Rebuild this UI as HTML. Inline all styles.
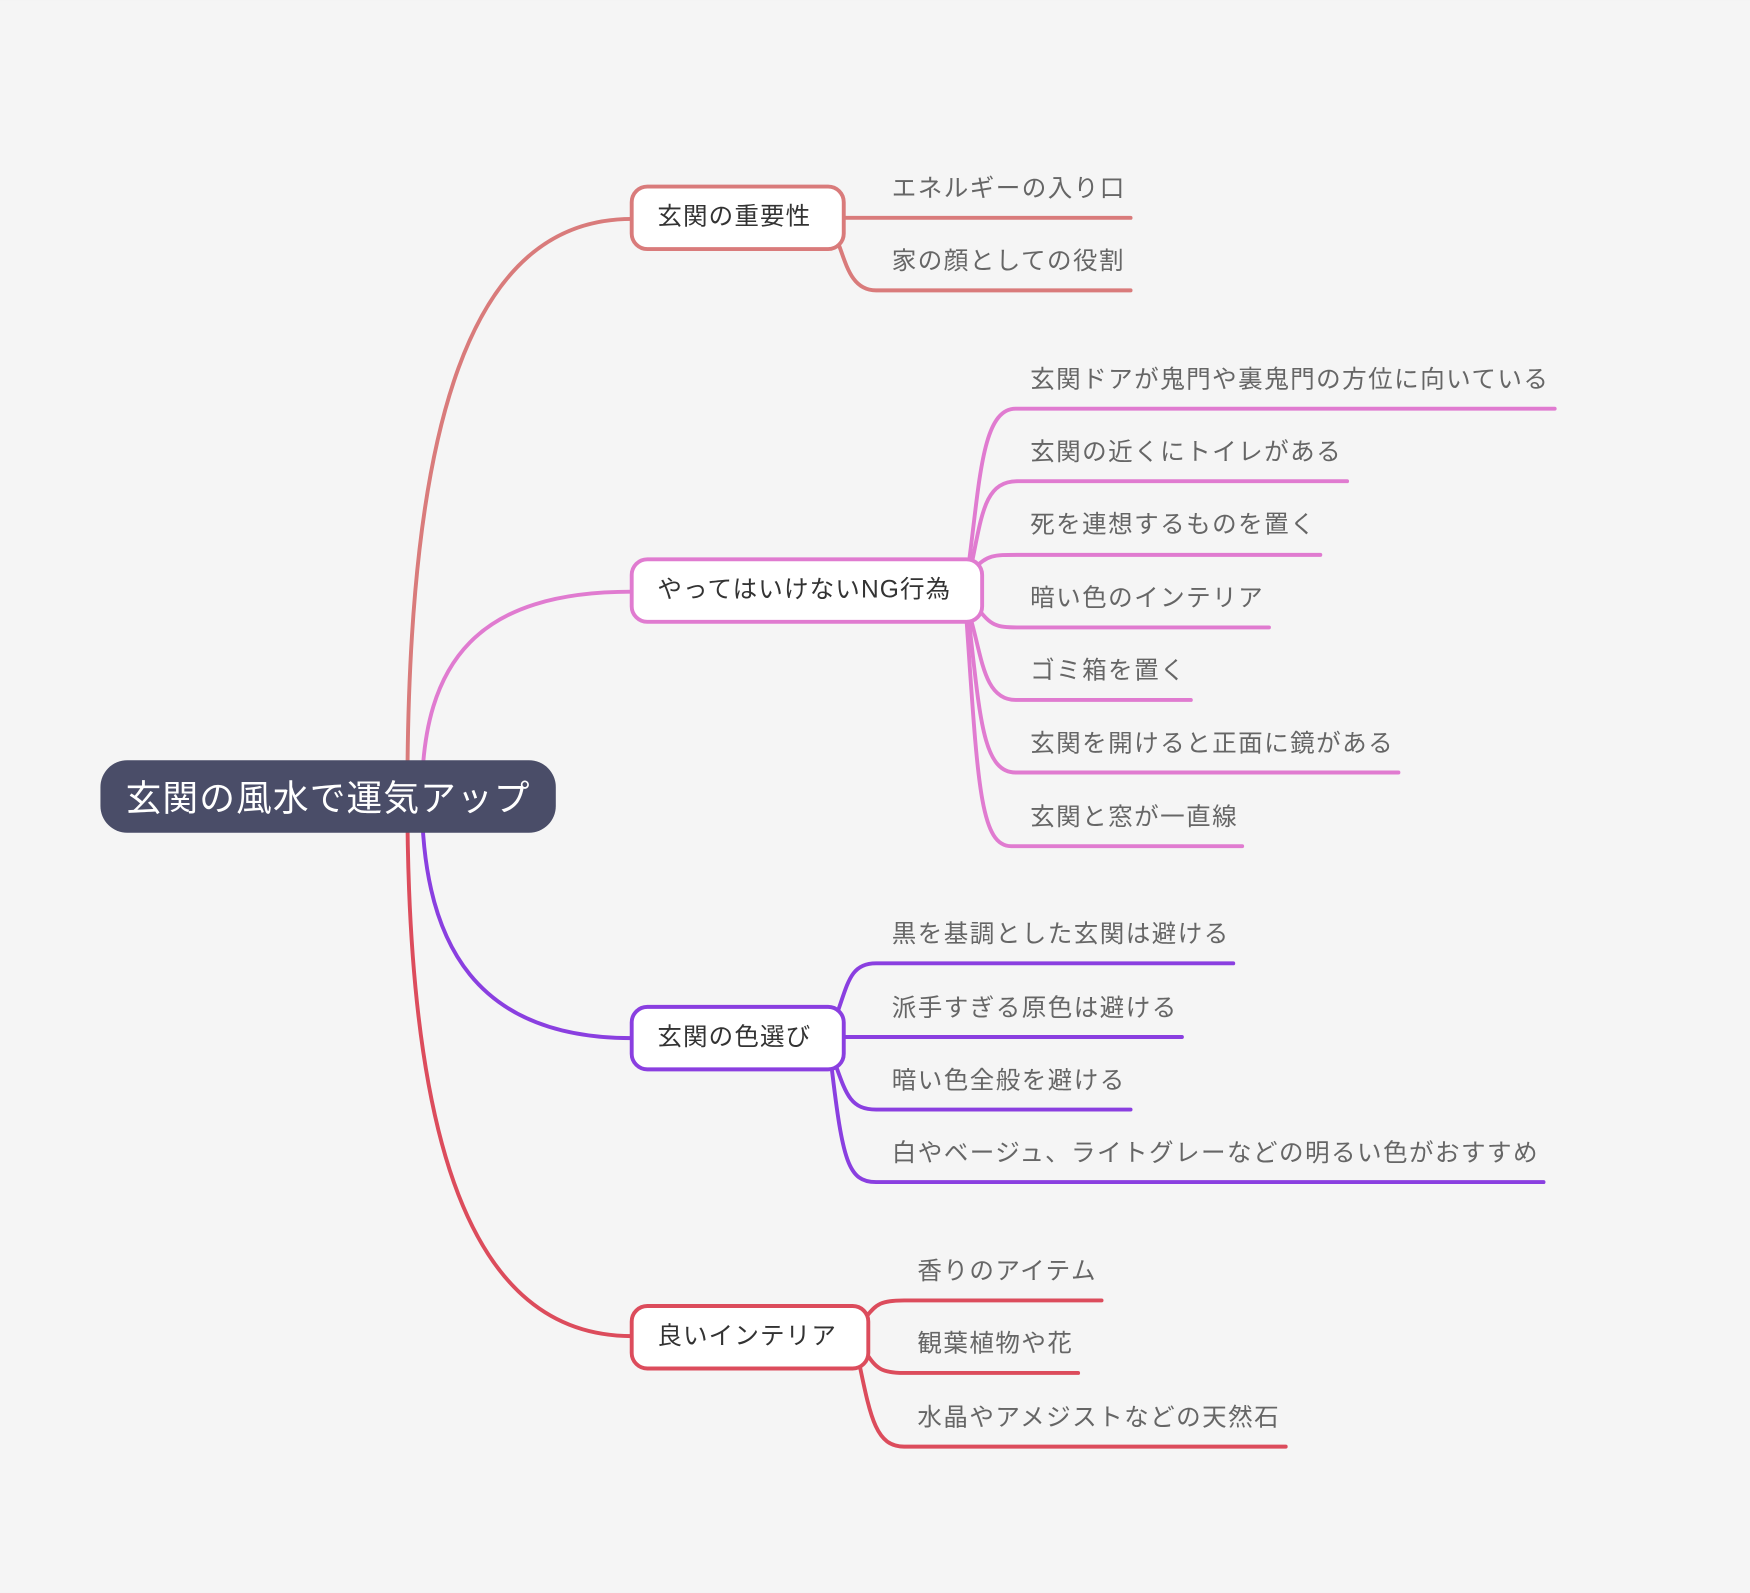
<!DOCTYPE html>
<html><head><meta charset="utf-8"><style>
html,body{margin:0;padding:0;background:#f5f5f5;}
svg{display:block;}
text{font-family:"Liberation Sans","Noto Sans CJK JP",sans-serif;}
.c{font-size:22px;fill:#666;letter-spacing:1.3px;}
.b{font-size:22px;fill:#333;letter-spacing:1px;}
</style></head><body>
<svg width="1750" height="1593" viewBox="0 0 1568 1427" xmlns="http://www.w3.org/2000/svg">
<rect width="1568" height="1427" fill="#f5f5f5"/>
<g fill="none" stroke-width="3.5" stroke-linecap="round">
<path d="M365,714 C365,380 420,196 566,196" stroke="#d97b7b"/>
<path d="M378,714 C378,590 430,530 566,530" stroke="#e07bd0"/>
<path d="M378,714 C378,850 430,930 566,930" stroke="#8a3fe0"/>
<path d="M365,714 C365,1020 420,1197 566,1197" stroke="#dc4c5c"/>
<g stroke="#d97b7b">
<path d="M756,195 L1013,195"/>
<path d="M750,215 C758,235 762,260 785,260 L1013,260"/>
</g>
<g stroke="#e07bd0">
<path d="M868,505 C878,430 880,366 910,366 L1393,366"/>
<path d="M870,508 C880,460 882,431 912,431 L1207,431"/>
<path d="M872,510 C885,497 890,497 912,497 L1183,497"/>
<path d="M876,545 C888,560 892,562 912,562 L1137,562"/>
<path d="M870,555 C880,590 882,627 910,627 L1067,627"/>
<path d="M868,555 C878,640 880,692 910,692 L1253,692"/>
<path d="M866,555 C876,700 878,758 906,758 L1113,758"/>
</g>
<g stroke="#8a3fe0">
<path d="M750,908 C760,880 762,863 785,863 L1105,863"/>
<path d="M756,929 L1059,929"/>
<path d="M748,952 C758,980 762,994 785,994 L1013,994"/>
<path d="M745,955 C755,1040 760,1059 785,1059 L1383,1059"/>
</g>
<g stroke="#dc4c5c">
<path d="M776,1180 C785,1168 790,1165 810,1165 L987,1165"/>
<path d="M776,1212 C785,1226 790,1230 810,1230 L966,1230"/>
<path d="M770,1222 C780,1270 785,1296 810,1296 L1152,1296"/>
</g>
</g>
<rect x="90" y="681" width="408" height="65" rx="24" fill="#4a4d68"/>
<text x="294" y="726" text-anchor="middle" font-size="32" fill="#fff" letter-spacing="1">玄関の風水で運気アップ</text>
<g fill="#fff" stroke-width="3.5">
<rect x="566" y="167" width="190" height="56" rx="14" stroke="#d97b7b"/>
<rect x="566" y="501" width="314" height="56" rx="14" stroke="#e07bd0"/>
<rect x="566" y="902" width="190" height="56" rx="14" stroke="#8a3fe0"/>
<rect x="566" y="1170" width="212" height="56" rx="14" stroke="#dc4c5c"/>
</g>
<text class="b" x="589" y="201">玄関の重要性</text>
<text class="b" x="589" y="535">やってはいけないNG行為</text>
<text class="b" x="589" y="936">玄関の色選び</text>
<text class="b" x="589" y="1204">良いインテリア</text>
<text class="c" x="799" y="176">エネルギーの入り口</text>
<text class="c" x="799" y="241">家の顔としての役割</text>
<text class="c" x="923" y="347">玄関ドアが鬼門や裏鬼門の方位に向いている</text>
<text class="c" x="923" y="412">玄関の近くにトイレがある</text>
<text class="c" x="923" y="477">死を連想するものを置く</text>
<text class="c" x="923" y="543">暗い色のインテリア</text>
<text class="c" x="923" y="608">ゴミ箱を置く</text>
<text class="c" x="923" y="673">玄関を開けると正面に鏡がある</text>
<text class="c" x="923" y="739">玄関と窓が一直線</text>
<text class="c" x="799" y="844">黒を基調とした玄関は避ける</text>
<text class="c" x="799" y="910">派手すぎる原色は避ける</text>
<text class="c" x="799" y="975">暗い色全般を避ける</text>
<text class="c" x="799" y="1040">白やベージュ、ライトグレーなどの明るい色がおすすめ</text>
<text class="c" x="822" y="1146">香りのアイテム</text>
<text class="c" x="822" y="1211">観葉植物や花</text>
<text class="c" x="822" y="1277">水晶やアメジストなどの天然石</text>
</svg>
</body></html>
